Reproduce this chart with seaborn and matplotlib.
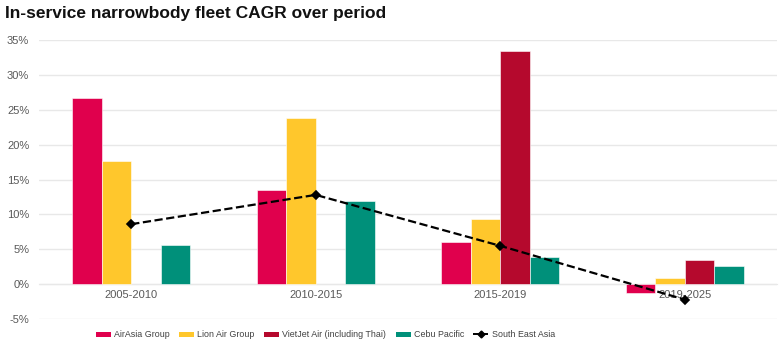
import pandas as pd
import numpy as np
import matplotlib.pyplot as plt
import seaborn as sns
from matplotlib.patches import Patch
from matplotlib.lines import Line2D

periods = ["2005-2010", "2010-2015", "2015-2019", "2019-2025"]
airasia = [26.7, 13.5, 6.0, -1.2]
lionair = [17.6, 23.8, 9.3, 0.9]
vietjet = [np.nan, np.nan, 33.4, 3.4]
cebu = [5.6, 11.9, 3.9, 2.6]
south_east_asia = [8.6, 12.8, 5.5, -2.2]

airlines = ["AirAsia Group", "Lion Air Group", "VietJet Air (including Thai)", "Cebu Pacific"]
colors = ["#E0004D", "#FFC72C", "#B5092D", "#00907A"]

# long table for the bars
df = pd.DataFrame({
    "period": periods * 4,
    "airline": np.repeat(airlines, 4),
    "cagr": airasia + lionair + vietjet + cebu,
})

sns.set_style("white")
plt.rcParams["font.family"] = ["Liberation Sans", "DejaVu Sans"]

fig = plt.figure(figsize=(7.8, 3.51), dpi=100)
ax = fig.add_axes([0.05, 0.091, 0.946, 0.795])

sns.barplot(data=df, x="period", y="cagr", hue="airline", hue_order=airlines,
            palette=colors, saturation=1, width=0.64, gap=0, edgecolor="white",
            linewidth=0.4, ax=ax, legend=False)

sns.pointplot(x=periods, y=south_east_asia, color="black", linestyle="--",
              marker="D", markersize=4, linewidth=1.6, ax=ax)

ax.set_ylim(-5, 35)
ax.set_xlim(-0.5, 3.5)
ax.set_yticks(range(-5, 36, 5))
ax.set_yticklabels([f"{v}%" for v in range(-5, 36, 5)])
ax.yaxis.grid(True, color="#E8E8E8", linewidth=1)
ax.set_axisbelow(True)
for s in ["top", "right", "left"]:
    ax.spines[s].set_visible(False)
ax.spines["bottom"].set_position(("data", 0))
ax.spines["bottom"].set_color("#E8E8E8")
ax.spines["bottom"].set_zorder(0)
ax.tick_params(axis="both", length=0, labelsize=8, labelcolor="#595959")
ax.tick_params(axis="y", pad=7)
ax.tick_params(axis="x", pad=4)
ax.set_xlabel("")
ax.set_ylabel("")

fig.text(0.006, 0.962, "In-service narrowbody fleet CAGR over period",
         fontsize=12.5, fontweight="bold", color="#111111", va="center")

handles = [Patch(facecolor=c, edgecolor="none") for c in colors]
handles.append(Line2D([0], [0], color="black", linestyle="--", marker="D",
                      markersize=3.5, linewidth=1.4))
labels = airlines + ["South East Asia"]
fig.legend(handles, labels, loc="center left", bbox_to_anchor=(0.113, 0.046),
           ncol=5, frameon=False, fontsize=6.4, labelcolor="#404040",
           handlelength=1.7, handleheight=0.55, handletextpad=0.34, columnspacing=1.05)

fig.savefig("out.png", dpi=100)
